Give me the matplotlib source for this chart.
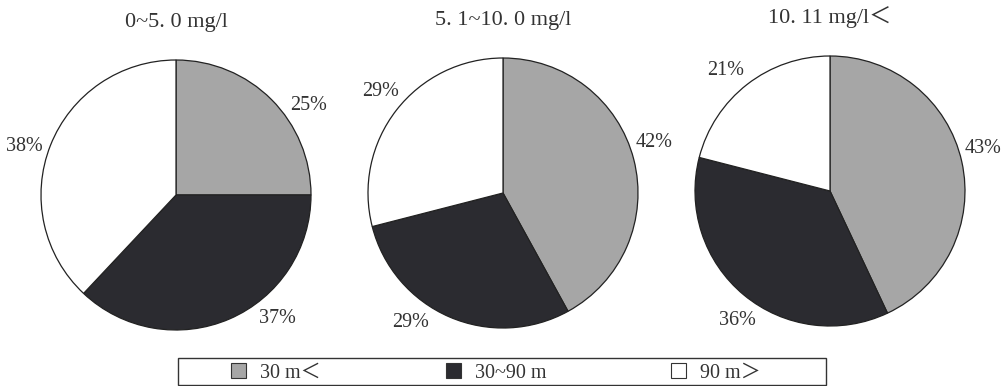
import matplotlib
matplotlib.use("Agg")
import matplotlib.pyplot as plt
import numpy as np
from matplotlib.patches import Patch, Rectangle

plt.rcParams['font.family'] = ['Liberation Serif', 'Noto Sans CJK JP']

# data
titles = ["0~5. 0 mg/l", "5. 1~10. 0 mg/l", "10. 11 mg/l＜"]
categories = ["30 m＜", "30~90 m", "90 m＞"]
shares = [
    [25, 37, 38],
    [42, 29, 29],
    [43, 36, 21],
]
colors = ["#a6a6a6", "#2b2b30", "#ffffff"]

# layout (pixels, fig is 1005 x 386)
W, H = 1005, 386
centres = [(176, 195), (503, 193), (830, 191)]
title_y = [23, 21, 17]
radius = 135
# small angular nudges (deg) of the % labels away from wedge middles
label_shift = [[-11, 16, 4], [4, -12, -2], [3, 4, 3]]
label_dist = 1.18

fig = plt.figure(figsize=(W / 100, H / 100), dpi=100)

for i in range(3):
    cx, cy = centres[i]
    ax = fig.add_axes([(cx - radius) / W, 1 - (cy + radius) / H,
                       2 * radius / W, 2 * radius / H])
    wedges, texts = ax.pie(shares[i], colors=colors, startangle=90, counterclock=False,
                           labels=[f"{v}%" for v in shares[i]], labeldistance=label_dist,
                           wedgeprops=dict(edgecolor="#222222", linewidth=0.9),
                           textprops=dict(fontsize=14.5, color="#333333",
                                          ha="center", va="center"))
    for w, t, s in zip(wedges, texts, label_shift[i]):
        ang = np.deg2rad((w.theta1 + w.theta2) / 2 + s)
        t.set_position((label_dist * np.cos(ang), label_dist * np.sin(ang)))
        t.set_ha("center")
    ax.set_xlim(-1, 1)
    ax.set_ylim(-1, 1)
    ax.set_aspect("equal")
    ax.axis("off")
    fig.text(cx / W, 1 - title_y[i] / H, titles[i], ha="center", va="center",
             fontsize=16, color="#333333")

# legend frame
fig.add_artist(Rectangle((178 / W, 1 - 385 / H), 648 / W, 27 / H,
                         transform=fig.transFigure, facecolor="none",
                         edgecolor="#333333", linewidth=1.0))
handles = [Patch(facecolor=c, edgecolor="#333333", linewidth=0.8) for c in colors]
leg = fig.legend(handles, categories, loc="center", ncol=3,
                 bbox_to_anchor=(496 / W, 1 - 373 / H),
                 fontsize=14.5, frameon=False, handlelength=0.75,
                 handleheight=0.75, handletextpad=0.7, columnspacing=6.2,
                 borderpad=0)
for t in leg.get_texts():
    t.set_color("#333333")

fig.savefig("out.png", dpi=100)
